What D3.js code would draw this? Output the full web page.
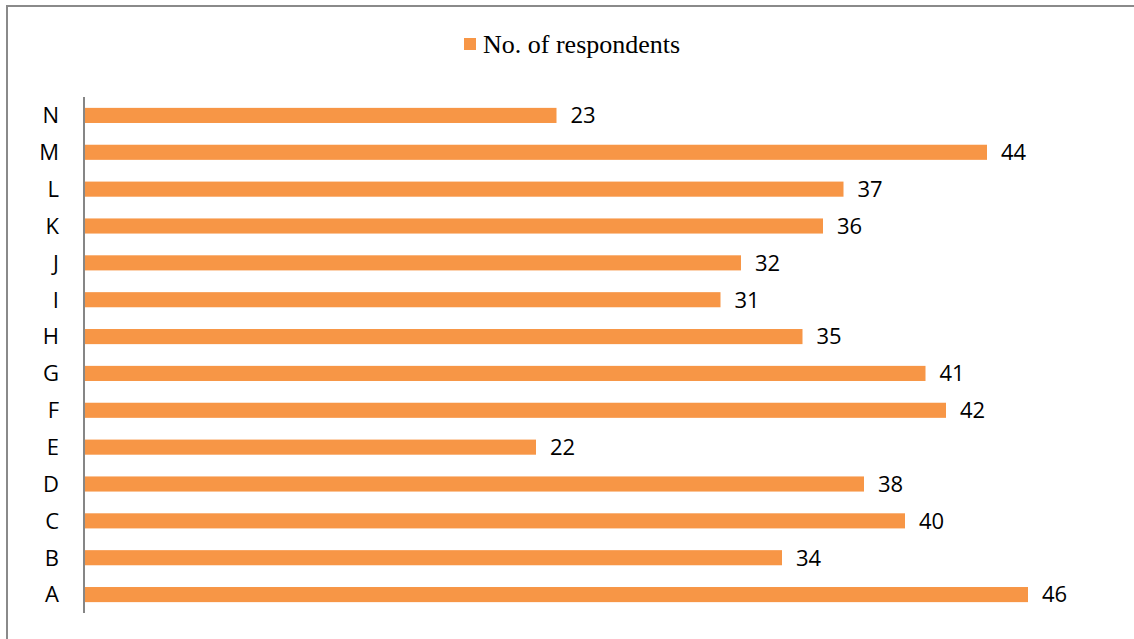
<!DOCTYPE html>
<html>
<head>
<meta charset="utf-8">
<script src="https://cdn.jsdelivr.net/npm/d3@7"></script>
<style>
  html, body { margin: 0; padding: 0; background: #fff; }
  svg { display: block; }
</style>
</head>
<body>
<svg id="chart" width="1134" height="639"></svg>
<script>
// Respondents per category
const categories = ["A","B","C","D","E","F","G","H","I","J","K","L","M","N"];
const respondents = [46, 34, 40, 38, 22, 42, 41, 35, 31, 32, 36, 37, 44, 23];
const seriesName = "No. of respondents";

const barColor = "#F79646";
const svg = d3.select("#chart");
const W = 1134, H = 639;

// Outer chart frame (runs off the right and bottom edges)
svg.append("rect")
  .attr("x", 7).attr("y", 6)
  .attr("width", W + 20).attr("height", H + 20)
  .attr("fill", "#fff")
  .attr("stroke", "#8a8a8a")
  .attr("stroke-width", 2);

const plot = { left: 85, top: 97, bottom: 613 };

const x = d3.scaleLinear().domain([0, 46]).range([plot.left, 1028]);
const y = d3.scaleBand()
  .domain(categories.slice().reverse())
  .range([plot.top, plot.bottom])
  .paddingInner(0.59)
  .paddingOuter(0.295);

const data = categories.map((c, i) => ({ cat: c, val: respondents[i] }));

// Bars
svg.append("g").selectAll("rect")
  .data(data)
  .join("rect")
  .attr("x", x(0))
  .attr("y", d => y(d.cat))
  .attr("width", d => x(d.val) - x(0))
  .attr("height", y.bandwidth())
  .attr("fill", barColor);

// Value labels
svg.append("g").selectAll("text")
  .data(data)
  .join("text")
  .attr("x", d => x(d.val) + 14)
  .attr("y", d => y(d.cat) + y.bandwidth() / 2)
  .attr("dy", "0.36em")
  .attr("font-family", "'Open Sans', 'Noto Sans', sans-serif")
  .attr("font-size", 22)
  .attr("fill", "#000")
  .text(d => d.val);

// Category axis
const yAxis = d3.axisLeft(y).tickSize(0).tickPadding(25);
const gy = svg.append("g")
  .attr("transform", `translate(${plot.left - 1},0)`)
  .call(yAxis);
gy.select(".domain")
  .attr("stroke", "#868686")
  .attr("stroke-width", 2)
  .attr("d", `M0,${plot.top}V${plot.bottom}`);
gy.selectAll(".tick text")
  .attr("font-family", "'Open Sans', 'Noto Sans', sans-serif")
  .attr("font-size", 22)
  .attr("dy", "0.36em")
  .attr("fill", "#000");

// Legend
const legend = svg.append("g").attr("transform", "translate(464,38)");
legend.append("rect")
  .attr("width", 12).attr("height", 12)
  .attr("fill", barColor);
legend.append("text")
  .attr("x", 19).attr("y", 6)
  .attr("dy", "0.35em")
  .attr("font-family", "'Liberation Serif', 'Times New Roman', serif")
  .attr("font-size", 26)
  .attr("fill", "#000")
  .text(seriesName);
</script>
</body>
</html>
